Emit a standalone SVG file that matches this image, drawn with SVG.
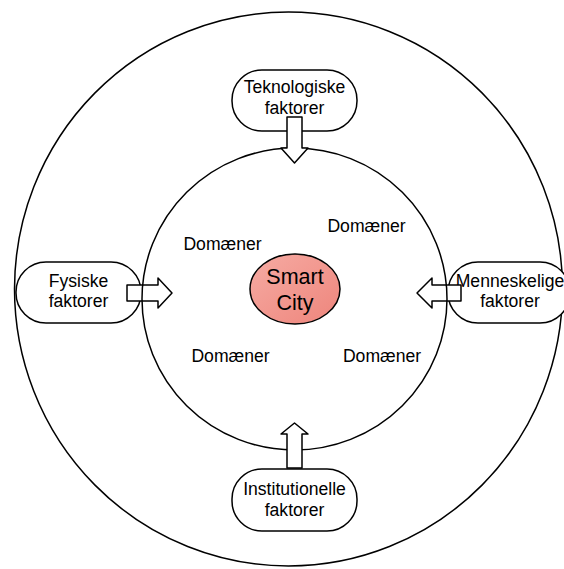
<svg xmlns="http://www.w3.org/2000/svg" width="564" height="569" viewBox="0 0 564 569">
  <defs>
    <linearGradient id="cityFill" x1="0" y1="0" x2="1" y2="1">
      <stop offset="0" stop-color="#f6aba3"/>
      <stop offset="1" stop-color="#ee857c"/>
    </linearGradient>
  </defs>
  <style>
    .ring { fill: none; stroke: #000; stroke-width: 1.5; }
    .box { fill: #fff; stroke: #000; stroke-width: 1.5; }
    .arrow { fill: #fff; stroke: #000; stroke-width: 1.5; stroke-linejoin: round; }
    .lbl { font-family: "Liberation Sans", Arial, sans-serif; font-size: 17.6px; fill: #000; text-anchor: middle; }
    .big { font-size: 21.5px; }
  </style>
  <rect width="564" height="569" fill="#fff"/>

  <!-- outer ring -->
  <ellipse id="outer-ring" class="ring" cx="288.5" cy="289" rx="274" ry="277"/>

  <!-- factor boxes -->
  <g id="node-teknologiske">
    <rect class="box" x="232" y="70" width="125" height="61" rx="30" ry="30"/>
    <text class="lbl" x="294.5" y="93">Teknologiske</text>
    <text class="lbl" x="294.5" y="114">faktorer</text>
  </g>
  <g id="node-fysiske">
    <rect class="box" x="16" y="262" width="125" height="61" rx="30" ry="30"/>
    <text class="lbl" x="78.5" y="287">Fysiske</text>
    <text class="lbl" x="78.5" y="307">faktorer</text>
  </g>
  <g id="node-menneskelige">
    <rect class="box" x="448" y="262" width="122" height="61" rx="30" ry="30"/>
    <text class="lbl" x="510" y="287">Menneskelige</text>
    <text class="lbl" x="510" y="307">faktorer</text>
  </g>
  <g id="node-institutionelle">
    <rect class="box" x="232" y="469" width="125" height="62" rx="30" ry="30"/>
    <text class="lbl" x="294.5" y="495">Institutionelle</text>
    <text class="lbl" x="294.5" y="516">faktorer</text>
  </g>

  <!-- connectors: block arrows from each factor towards the domain ring -->
  <g id="connectors">
    <path class="arrow" d="M127,285 L158,285 L158,278 L172,293 L158,308 L158,301 L127,301 Z"/>
    <path class="arrow" d="M461,285 L432,285 L432,278 L417,293 L432,308 L432,301 L461,301 Z"/>
  </g>

  <!-- inner ring (domains) -->
  <ellipse id="inner-ring" class="ring" cx="294.5" cy="299" rx="152.5" ry="151"/>

  <g id="connectors-vertical">
    <path class="arrow" d="M287,117 L287,148 L281,148 L294.5,163 L308,148 L302,148 L302,117 Z"/>
    <path class="arrow" d="M287,468 L287,434 L281,434 L294.5,423 L308,434 L302,434 L302,468 Z"/>
  </g>

  <!-- domain labels -->
  <g id="domains">
    <text class="lbl" x="222.5" y="250">Domæner</text>
    <text class="lbl" x="366.5" y="232">Domæner</text>
    <text class="lbl" x="230.5" y="362">Domæner</text>
    <text class="lbl" x="382" y="362">Domæner</text>
  </g>

  <!-- centre -->
  <g id="node-smart-city">
    <ellipse cx="295" cy="289" rx="45" ry="35" fill="url(#cityFill)" stroke="#000" stroke-width="1.5"/>
    <text class="lbl big" x="295" y="284">Smart</text>
    <text class="lbl big" x="295" y="310">City</text>
  </g>
</svg>
